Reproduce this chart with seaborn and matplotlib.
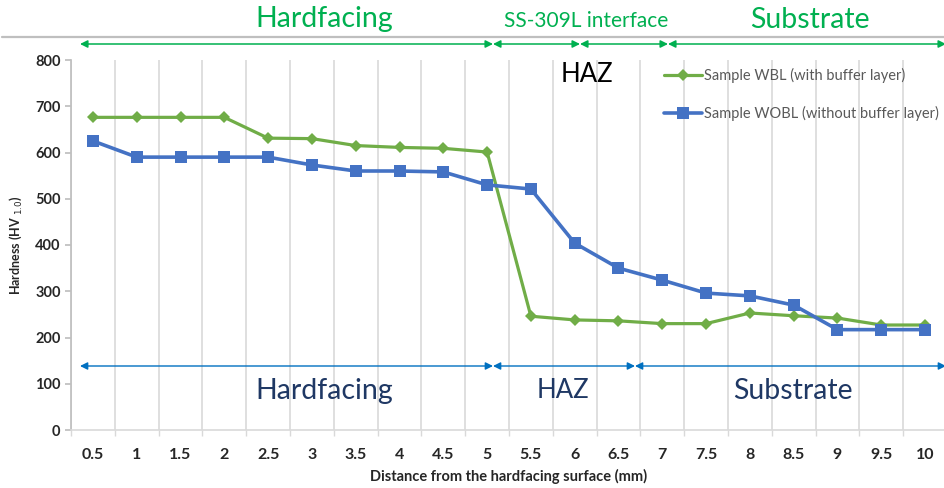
import matplotlib
matplotlib.use("Agg")
import matplotlib.pyplot as plt
from matplotlib.lines import Line2D
import seaborn as sns
import pandas as pd
import numpy as np

# ---------------------------------------------------------------------------
# Data
# ---------------------------------------------------------------------------
distance_labels = ["0.5", "1", "1.5", "2", "2.5", "3", "3.5", "4", "4.5", "5",
                   "5.5", "6", "6.5", "7", "7.5", "8", "8.5", "9", "9.5", "10"]
hardness_wbl = [676, 676, 676, 676, 631, 630, 615, 611, 609, 601,
                246, 238, 236, 230, 230, 253, 247, 242, 227, 227]
hardness_wobl = [625, 590, 590, 590, 590, 573, 560, 560, 558, 530,
                 521, 404, 350, 324, 296, 290, 270, 217, 217, 217]

label_wbl = "Sample WBL (with buffer layer)"
label_wobl = "Sample WOBL (without buffer layer)"

GREEN = "#70AD47"
BLUE = "#4472C4"
ZONE_GREEN = "#00B050"
ARROW_BLUE = "#0070C0"
NAVY = "#1F3864"

sns.set_theme(style="white")
plt.rcParams["font.family"] = ["Lato", "DejaVu Sans"]

idx = np.arange(len(distance_labels))
df = pd.DataFrame({"pos": idx, "wbl": hardness_wbl, "wobl": hardness_wobl})

fig = plt.figure(figsize=(9.44, 4.88), dpi=100)
ax = fig.add_axes([71 / 944, 1 - 430 / 488, 876 / 944, 370 / 488])

sns.lineplot(data=df, x="pos", y="wbl", ax=ax, color=GREEN, linewidth=2.3,
             marker="D", markersize=6, markeredgewidth=0, label=label_wbl)
sns.lineplot(data=df, x="pos", y="wobl", ax=ax, color=BLUE, linewidth=2.6,
             marker="s", markersize=9, markeredgewidth=0, label=label_wobl)

# ---------------------------------------------------------------------------
# Axes styling
# ---------------------------------------------------------------------------
ax.set_xlim(-0.5, len(distance_labels) - 0.5)
ax.set_ylim(0, 800)
ax.set_yticks(range(0, 801, 100))
ax.set_xticks(idx)
ax.set_xticklabels(distance_labels)
ax.set_xticks(np.arange(-0.5, len(distance_labels)), minor=True)
ax.grid(axis="x", which="minor", color="#D9D9D9", linewidth=1.2)
ax.grid(axis="y", visible=False)
ax.grid(axis="x", which="major", visible=False)

for s in ["top", "right"]:
    ax.spines[s].set_visible(False)
ax.spines["left"].set_color("#BFBFBF")
ax.spines["bottom"].set_color("#D9D9D9")
ax.spines["bottom"].set_linewidth(1.2)

ax.tick_params(axis="x", which="major", length=0, pad=13, labelsize=11.5,
               labelcolor="#262626")
ax.tick_params(axis="x", which="minor", length=4, color="#D9D9D9", bottom=True)
ax.tick_params(axis="y", length=4, color="#BFBFBF", left=True, labelsize=10.5,
               labelcolor="#262626")
for lab in ax.get_xticklabels() + ax.get_yticklabels():
    lab.set_fontweight("bold")

ax.set_xlabel("Distance from the hardfacing surface (mm)", fontsize=10.5,
              fontweight="bold", color="#262626", labelpad=5)
ax.set_ylabel(r"Hardness (HV $_{1.0}$)", fontsize=9, fontweight="bold",
              color="#262626", labelpad=8)

leg = ax.legend(loc="upper left", bbox_to_anchor=(651 / 944, 1 - 55 / 488),
                bbox_transform=fig.transFigure, frameon=False, fontsize=10.5,
                handlelength=2.6, handletextpad=0.15, labelspacing=1.55)
for t in leg.get_texts():
    t.set_color("#595959")


# ---------------------------------------------------------------------------
# Zone annotations
# ---------------------------------------------------------------------------
def px_to_x(px):
    return (px - 71) / 43.8 - 0.5


def px_to_y(py):
    return (430 - py) / 0.4625


def zone_arrow(x0, x1, y, color, lw):
    ax.annotate("", xy=(px_to_x(x1), px_to_y(y)), xytext=(px_to_x(x0), px_to_y(y)),
                xycoords="data", annotation_clip=False,
                arrowprops=dict(arrowstyle="<|-|>", color=color, lw=lw,
                                shrinkA=0, shrinkB=0, mutation_scale=11))


# top separator line
fig.add_artist(Line2D([2 / 944, 1], [1 - 37 / 488] * 2, color="#BFBFBF",
                      linewidth=1.6, transform=fig.transFigure))

for x0, x1 in [(80, 493), (493, 580), (580, 668), (668, 946)]:
    zone_arrow(x0, x1, 44, ZONE_GREEN, 1.1)
for x0, x1 in [(80, 493), (493, 635), (635, 946)]:
    zone_arrow(x0, x1, 366, ARROW_BLUE, 1.0)

ax.text(px_to_x(324), px_to_y(19), "Hardfacing", color=ZONE_GREEN, fontsize=20.5,
        ha="center", va="center")
ax.text(px_to_x(586), px_to_y(21), "SS-309L interface", color=ZONE_GREEN,
        fontsize=15, ha="center", va="center")
ax.text(px_to_x(810), px_to_y(20), "Substrate", color=ZONE_GREEN, fontsize=20.5,
        ha="center", va="center")
ax.text(px_to_x(587), px_to_y(74), "HAZ", color="black", fontsize=18.5,
        ha="center", va="center")

ax.text(px_to_x(324), px_to_y(391), "Hardfacing", color=NAVY, fontsize=20.5,
        ha="center", va="center")
ax.text(px_to_x(563), px_to_y(391), "HAZ", color=NAVY, fontsize=18.5,
        ha="center", va="center")
ax.text(px_to_x(793), px_to_y(391), "Substrate", color=NAVY, fontsize=20.5,
        ha="center", va="center")

fig.savefig("out.png", dpi=100)
plt.close(fig)
